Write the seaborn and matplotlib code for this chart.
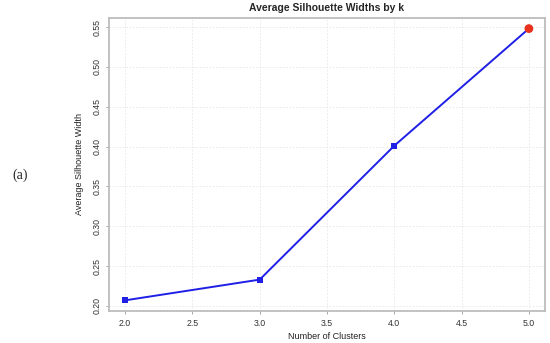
import matplotlib
matplotlib.use("Agg")
import matplotlib.pyplot as plt
import seaborn as sns
import pandas as pd

# data
clusters = [2, 3, 4, 5]
sil_width = [0.207, 0.233, 0.401, 0.548]
best_k = [5]
best_width = [0.548]

xticks = [2.0, 2.5, 3.0, 3.5, 4.0, 4.5, 5.0]
yticks = [0.20, 0.25, 0.30, 0.35, 0.40, 0.45, 0.50, 0.55]

df = pd.DataFrame({"k": clusters, "width": sil_width})
best = pd.DataFrame({"k": best_k, "width": best_width})

sns.set_style("white")
plt.rcParams["font.family"] = ["Liberation Sans", "DejaVu Sans"]

fig = plt.figure(figsize=(5.5, 3.43), dpi=100)
ax = fig.add_axes([0.198, 0.093, 0.793, 0.855])

sns.lineplot(data=df, x="k", y="width", ax=ax, color="#1f1fe6", lw=1.4,
             marker="s", markersize=4.5, markeredgewidth=0, zorder=3)
sns.scatterplot(data=best, x="k", y="width", ax=ax, color="#e8321e",
                s=40, edgecolor="none", zorder=4)

ax.set_xlim(1.88, 5.12)
ax.set_ylim(0.1935, 0.5615)
ax.set_xticks(xticks)
ax.set_xticklabels([f"{t:.1f}" for t in xticks], fontsize=6.3)
ax.set_yticks(yticks)
ax.set_yticklabels([f"{t:.2f}" for t in yticks], fontsize=6.3, rotation=90,
                   va="center")
ax.tick_params(axis="both", length=2.5, width=0.6, color="#999999",
               pad=3, labelcolor="#333333")
ax.tick_params(axis="x", bottom=True)
ax.tick_params(axis="y", left=True)

ax.grid(True, color="#e6e6e6", lw=0.6, ls=(0, (2, 2)))
ax.set_axisbelow(True)
for s in ax.spines.values():
    s.set_color("#bdbdbd")
    s.set_linewidth(1.3)

ax.set_title("Average Silhouette Widths by k", fontsize=7.5,
             fontweight="bold", pad=5)
ax.set_xlabel("Number of Clusters", fontsize=6.5, labelpad=3,
              color="#222222")
ax.set_ylabel("Average Silhouette Width", fontsize=6.5, labelpad=6,
              color="#222222")

fig.text(0.036, 0.49, "(a)", fontsize=10, family=["Liberation Serif"],
         ha="center", va="center")

fig.savefig("out.png", dpi=100)
